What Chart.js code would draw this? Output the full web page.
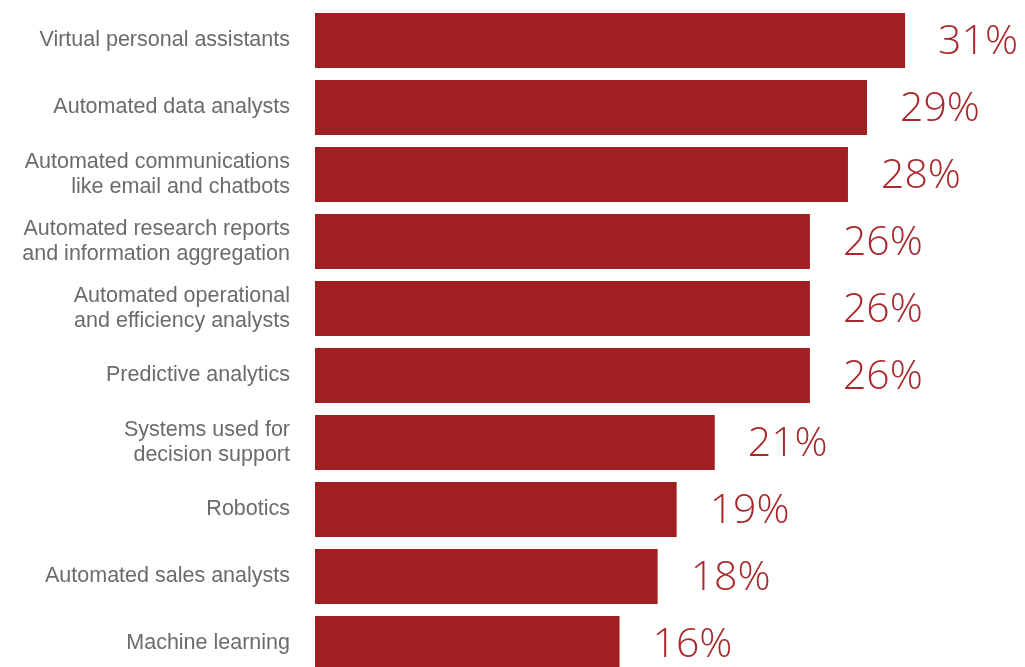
<!DOCTYPE html>
<html>
<head>
<meta charset="utf-8">
<title>AI technologies</title>
<script src="https://cdn.jsdelivr.net/npm/chart.js@4/dist/chart.umd.min.js"></script>
<style>
    html, body { margin: 0; padding: 0; background: #fff; overflow: hidden; }
    canvas { display: block; }
</style>
</head>
<body>
<canvas id="aiChart" width="1025" height="684"></canvas>
<script>
// Share of respondents per technology (percent)
const categories = [
    ['Virtual personal assistants'],
    ['Automated data analysts'],
    ['Automated communications', 'like email and chatbots'],
    ['Automated research reports', 'and information aggregation'],
    ['Automated operational', 'and efficiency analysts'],
    ['Predictive analytics'],
    ['Systems used for', 'decision support'],
    ['Robotics'],
    ['Automated sales analysts'],
    ['Machine learning']
];
const shares = [31, 29, 28, 26, 26, 26, 21, 19, 18, 16];

const BAR_RED = '#a01f21';

// Writes "NN%" just past the end of each bar
const valueLabels = {
    id: 'valueLabels',
    afterDatasetsDraw(chart) {
        const ctx = chart.ctx;
        const meta = chart.getDatasetMeta(0);
        ctx.save();
        ctx.fillStyle = '#a8282b';
        ctx.font = '300 41px "Open Sans", "Liberation Sans", sans-serif';
        ctx.textAlign = 'left';
        ctx.textBaseline = 'middle';
        meta.data.forEach((bar, i) => {
            ctx.fillText(shares[i] + '%', bar.x + 33, bar.y + 2);
        });
        ctx.restore();
    }
};

new Chart(document.getElementById('aiChart'), {
    type: 'bar',
    data: {
        labels: categories,
        datasets: [{
            data: shares,
            backgroundColor: BAR_RED,
            borderWidth: 0,
            barPercentage: 0.82,
            categoryPercentage: 1
        }]
    },
    options: {
        indexAxis: 'y',
        responsive: false,
        animation: false,
        events: [],
        layout: { padding: { top: 7, bottom: 7, left: 0, right: 0 } },
        plugins: {
            legend: { display: false },
            tooltip: { enabled: false }
        },
        scales: {
            x: {
                display: false,
                min: 0,
                max: 37.3
            },
            y: {
                grid: { display: false, drawTicks: false },
                border: { display: false },
                ticks: {
                    color: '#6b6b6b',
                    padding: 25,
                    font: { family: '"Liberation Sans", Arial, sans-serif', size: 21.5, lineHeight: 1.2 }
                },
                afterFit(scale) {
                    scale.width = 315;
                    scale.paddingTop = 0;
                    scale.paddingBottom = 0;
                }
            }
        }
    },
    plugins: [valueLabels]
});
</script>
</body>
</html>
